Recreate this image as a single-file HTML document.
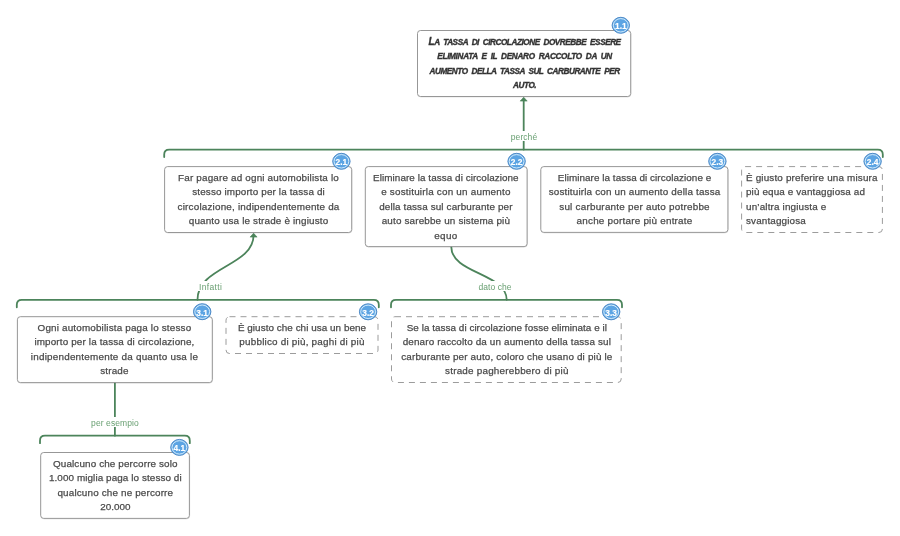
<!DOCTYPE html>
<html lang="it">
<head>
<meta charset="utf-8">
<title>Mappa argomentativa</title>
<style>
html,body{margin:0;padding:0;background:#fff;}
body{width:900px;height:536px;position:relative;overflow:hidden;font-family:"Liberation Sans",sans-serif;}
svg{position:absolute;left:0;top:0;}
.t{position:absolute;will-change:transform;-webkit-text-stroke:0.25px #4a4a4a;font-size:9.9px;line-height:14.47px;color:#4a4a4a;text-align:center;white-space:nowrap;}
.t.l{text-align:left;}
.t.title{font-weight:bold;font-style:italic;text-transform:uppercase;font-size:8.2px;letter-spacing:-0.45px;word-spacing:2px;color:#333;-webkit-text-stroke:0.35px #333;}
.t.title::first-letter{font-size:10px;line-height:0;}
.lab{position:absolute;will-change:transform;font-size:8.5px;line-height:12.6px;height:10.2px;color:#6aa073;background:#fff;white-space:nowrap;padding:0 1px;}
</style>
</head>
<body>

<svg width="900" height="536" viewBox="0 0 900 536">
<g fill="none" stroke="#4c845b" stroke-width="1.8" stroke-linecap="round" stroke-linejoin="round">
<path d="M164.2 157.1 V154.6 Q164.2 149.6 169.2 149.6 H877.8 Q882.8 149.6 882.8 154.6 V157.1"/>
<path d="M16.8 307.3 V304.8 Q16.8 299.8 21.8 299.8 H373.8 Q378.8 299.8 378.8 304.8 V307.3"/>
<path d="M391.0 307.3 V304.8 Q391.0 299.8 396.0 299.8 H617.0 Q622.0 299.8 622.0 304.8 V307.3"/>
<path d="M40.0 443.2 V440.7 Q40.0 435.7 45.0 435.7 H184.8 Q189.8 435.7 189.8 440.7 V443.2"/>
<path d="M523.7 149.6 V99"/>
<path d="M197.5 299.8 C197.5 266.4 253.6 266.4 253.6 235"/>
<path d="M451.3 247 C451.3 273.4 506.7 273.4 506.7 299.8"/>
<path d="M114.9 383 V435.7"/>
</g>
<g fill="#4c845b" stroke="#4c845b" stroke-width="0.6" stroke-linejoin="round">
<path d="M523.7 97.2 L527.2 101.1 L520.2 101.1 Z"/>
<path d="M253.6 233.2 L257.1 237.1 L250.1 237.1 Z"/>
</g>
</svg>
<div class="lab" style="left:523.7px;top:130.5px;transform:translateX(-50%)"><span style="letter-spacing:0.065px">perché</span></div>
<div class="lab" style="left:197.5px;top:281.2px"><span style="letter-spacing:0.342px">Infatti</span></div>
<div class="lab" style="left:494.5px;top:281.0px;transform:translateX(-50%)"><span style="letter-spacing:0.066px">dato che</span></div>
<div class="lab" style="left:115.0px;top:416.6px;transform:translateX(-50%)"><span style="letter-spacing:0.102px">per esempio</span></div>
<svg width="900" height="536" viewBox="0 0 900 536">
<rect x="417.8" y="31.0" width="213.2" height="66.0" rx="3" ry="3" fill="none" stroke="#000" stroke-opacity="0.10" stroke-width="1"/>
<rect x="417.5" y="30.5" width="213.2" height="66.0" rx="3" ry="3" fill="#fff" stroke="#8c8c8c" stroke-width="0.9"/>
<rect x="164.9" y="167.1" width="187.1" height="65.9" rx="3" ry="3" fill="none" stroke="#000" stroke-opacity="0.10" stroke-width="1"/>
<rect x="164.6" y="166.6" width="187.1" height="65.9" rx="3" ry="3" fill="#fff" stroke="#8c8c8c" stroke-width="0.9"/>
<rect x="365.6" y="167.1" width="161.8" height="80.0" rx="3" ry="3" fill="none" stroke="#000" stroke-opacity="0.10" stroke-width="1"/>
<rect x="365.3" y="166.6" width="161.8" height="80.0" rx="3" ry="3" fill="#fff" stroke="#8c8c8c" stroke-width="0.9"/>
<rect x="541.1" y="167.1" width="187.1" height="65.8" rx="3" ry="3" fill="none" stroke="#000" stroke-opacity="0.10" stroke-width="1"/>
<rect x="540.8" y="166.6" width="187.1" height="65.8" rx="3" ry="3" fill="#fff" stroke="#8c8c8c" stroke-width="0.9"/>
<rect x="17.7" y="317.2" width="194.9" height="65.9" rx="3" ry="3" fill="none" stroke="#000" stroke-opacity="0.10" stroke-width="1"/>
<rect x="17.4" y="316.7" width="194.9" height="65.9" rx="3" ry="3" fill="#fff" stroke="#8c8c8c" stroke-width="0.9"/>
<rect x="41.0" y="453.0" width="148.7" height="65.9" rx="3" ry="3" fill="none" stroke="#000" stroke-opacity="0.10" stroke-width="1"/>
<rect x="40.7" y="452.5" width="148.7" height="65.9" rx="3" ry="3" fill="#fff" stroke="#8c8c8c" stroke-width="0.9"/>
<rect x="741.6" y="166.6" width="140.8" height="65.9" rx="3.5" ry="3.5" fill="#fff" stroke="#9c9c9c" stroke-width="1" stroke-dasharray="6 5"/>
<rect x="226.0" y="316.7" width="152.0" height="36.8" rx="3.5" ry="3.5" fill="#fff" stroke="#9c9c9c" stroke-width="1" stroke-dasharray="6 5"/>
<rect x="391.5" y="316.7" width="229.7" height="65.8" rx="3.5" ry="3.5" fill="#fff" stroke="#9c9c9c" stroke-width="1" stroke-dasharray="6 5"/>
<ellipse cx="620.8" cy="25.3" rx="8.7" ry="8.0" fill="#5ca4e3" stroke="#4f8ac6" stroke-width="1"/>
<ellipse cx="620.8" cy="25.3" rx="7.4" ry="6.7" fill="none" stroke="#d2ecfd" stroke-width="1"/>
<text x="620.8" y="29.1" text-anchor="middle" font-family="Liberation Sans, sans-serif" font-size="8.4" font-weight="bold" fill="#fff" stroke="#fff" stroke-width="0.15">1.1</text>
<ellipse cx="341.4" cy="161.3" rx="8.7" ry="8.0" fill="#5ca4e3" stroke="#4f8ac6" stroke-width="1"/>
<ellipse cx="341.4" cy="161.3" rx="7.4" ry="6.7" fill="none" stroke="#d2ecfd" stroke-width="1"/>
<text x="341.4" y="165.1" text-anchor="middle" font-family="Liberation Sans, sans-serif" font-size="8.4" font-weight="bold" fill="#fff" stroke="#fff" stroke-width="0.15">2.1</text>
<ellipse cx="516.6" cy="161.3" rx="8.7" ry="8.0" fill="#5ca4e3" stroke="#4f8ac6" stroke-width="1"/>
<ellipse cx="516.6" cy="161.3" rx="7.4" ry="6.7" fill="none" stroke="#d2ecfd" stroke-width="1"/>
<text x="516.6" y="165.1" text-anchor="middle" font-family="Liberation Sans, sans-serif" font-size="8.4" font-weight="bold" fill="#fff" stroke="#fff" stroke-width="0.15">2.2</text>
<ellipse cx="717.4" cy="161.3" rx="8.7" ry="8.0" fill="#5ca4e3" stroke="#4f8ac6" stroke-width="1"/>
<ellipse cx="717.4" cy="161.3" rx="7.4" ry="6.7" fill="none" stroke="#d2ecfd" stroke-width="1"/>
<text x="717.4" y="165.1" text-anchor="middle" font-family="Liberation Sans, sans-serif" font-size="8.4" font-weight="bold" fill="#fff" stroke="#fff" stroke-width="0.15">2.3</text>
<ellipse cx="872.6" cy="161.3" rx="8.7" ry="8.0" fill="#5ca4e3" stroke="#4f8ac6" stroke-width="1"/>
<ellipse cx="872.6" cy="161.3" rx="7.4" ry="6.7" fill="none" stroke="#d2ecfd" stroke-width="1"/>
<text x="872.6" y="165.1" text-anchor="middle" font-family="Liberation Sans, sans-serif" font-size="8.4" font-weight="bold" fill="#fff" stroke="#fff" stroke-width="0.15">2.4</text>
<ellipse cx="202.2" cy="311.7" rx="8.7" ry="8.0" fill="#5ca4e3" stroke="#4f8ac6" stroke-width="1"/>
<ellipse cx="202.2" cy="311.7" rx="7.4" ry="6.7" fill="none" stroke="#d2ecfd" stroke-width="1"/>
<text x="202.2" y="315.5" text-anchor="middle" font-family="Liberation Sans, sans-serif" font-size="8.4" font-weight="bold" fill="#fff" stroke="#fff" stroke-width="0.15">3.1</text>
<ellipse cx="368.1" cy="311.8" rx="8.7" ry="8.0" fill="#5ca4e3" stroke="#4f8ac6" stroke-width="1"/>
<ellipse cx="368.1" cy="311.8" rx="7.4" ry="6.7" fill="none" stroke="#d2ecfd" stroke-width="1"/>
<text x="368.1" y="315.6" text-anchor="middle" font-family="Liberation Sans, sans-serif" font-size="8.4" font-weight="bold" fill="#fff" stroke="#fff" stroke-width="0.15">3.2</text>
<ellipse cx="611.2" cy="311.8" rx="8.7" ry="8.0" fill="#5ca4e3" stroke="#4f8ac6" stroke-width="1"/>
<ellipse cx="611.2" cy="311.8" rx="7.4" ry="6.7" fill="none" stroke="#d2ecfd" stroke-width="1"/>
<text x="611.2" y="315.6" text-anchor="middle" font-family="Liberation Sans, sans-serif" font-size="8.4" font-weight="bold" fill="#fff" stroke="#fff" stroke-width="0.15">3.3</text>
<ellipse cx="179.4" cy="447.4" rx="8.7" ry="8.0" fill="#5ca4e3" stroke="#4f8ac6" stroke-width="1"/>
<ellipse cx="179.4" cy="447.4" rx="7.4" ry="6.7" fill="none" stroke="#d2ecfd" stroke-width="1"/>
<text x="179.4" y="451.2" text-anchor="middle" font-family="Liberation Sans, sans-serif" font-size="8.4" font-weight="bold" fill="#fff" stroke="#fff" stroke-width="0.15">4.1</text>
</svg>
<div class="t title" style="left:417.5px;width:213.2px;top:36px">La tassa di circolazione dovrebbe essere<br><span style="letter-spacing:-0.31px">eliminata e il denaro raccolto da un</span><br>aumento della tassa sul carburante per<br>auto.</div>
<div class="t" style="left:164.6px;width:187.1px;top:171px"><span style="letter-spacing:0.173px">Far pagare ad ogni automobilista lo</span><br><span style="letter-spacing:0.141px">stesso importo per la tassa di</span><br><span style="letter-spacing:0.193px">circolazione, indipendentemente da</span><br><span style="letter-spacing:0.165px">quanto usa le strade è ingiusto</span></div>
<div class="t" style="left:365.3px;width:161.8px;top:171px"><span style="letter-spacing:0.068px">Eliminare la tassa di circolazione</span><br><span style="letter-spacing:0.214px">e sostituirla con un aumento</span><br><span style="letter-spacing:0.131px">della tassa sul carburante per</span><br><span style="letter-spacing:0.160px">auto sarebbe un sistema più</span><br><span style="letter-spacing:0.289px">equo</span></div>
<div class="t" style="left:540.8px;width:187.1px;top:171px"><span style="letter-spacing:0.056px">Eliminare la tassa di circolazione e</span><br><span style="letter-spacing:0.173px">sostituirla con un aumento della tassa</span><br><span style="letter-spacing:0.229px">sul carburante per auto potrebbe</span><br><span style="letter-spacing:0.224px">anche portare più entrate</span></div>
<div class="t l" style="left:746.3px;top:171px"><span style="letter-spacing:0.169px">È giusto preferire una misura</span><br><span style="letter-spacing:0.129px">più equa e vantaggiosa ad</span><br><span style="letter-spacing:0.155px">un’altra ingiusta e</span><br><span style="letter-spacing:0.141px">svantaggiosa</span></div>
<div class="t" style="left:17.4px;width:194.9px;top:321px"><span style="letter-spacing:0.166px">Ogni automobilista paga lo stesso</span><br><span style="letter-spacing:0.144px">importo per la tassa di circolazione,</span><br><span style="letter-spacing:0.222px">indipendentemente da quanto usa le</span><br><span style="letter-spacing:0.195px">strade</span></div>
<div class="t" style="left:226.0px;width:152.0px;top:321px"><span style="letter-spacing:0.051px">È giusto che chi usa un bene</span><br><span style="letter-spacing:0.216px">pubblico di più, paghi di più</span></div>
<div class="t" style="left:391.5px;width:229.7px;top:321px"><span style="letter-spacing:0.043px">Se la tassa di circolazione fosse eliminata e il</span><br><span style="letter-spacing:0.140px">denaro raccolto da un aumento della tassa sul</span><br><span style="letter-spacing:0.161px">carburante per auto, coloro che usano di più le</span><br><span style="letter-spacing:0.213px">strade pagherebbero di più</span></div>
<div class="t" style="left:40.7px;width:148.7px;top:457px"><span style="letter-spacing:0.130px">Qualcuno che percorre solo</span><br><span style="letter-spacing:0.090px">1.000 miglia paga lo stesso di</span><br><span style="letter-spacing:0.156px">qualcuno che ne percorre</span><br><span style="letter-spacing:-0.018px">20.000</span></div>
</body>
</html>
